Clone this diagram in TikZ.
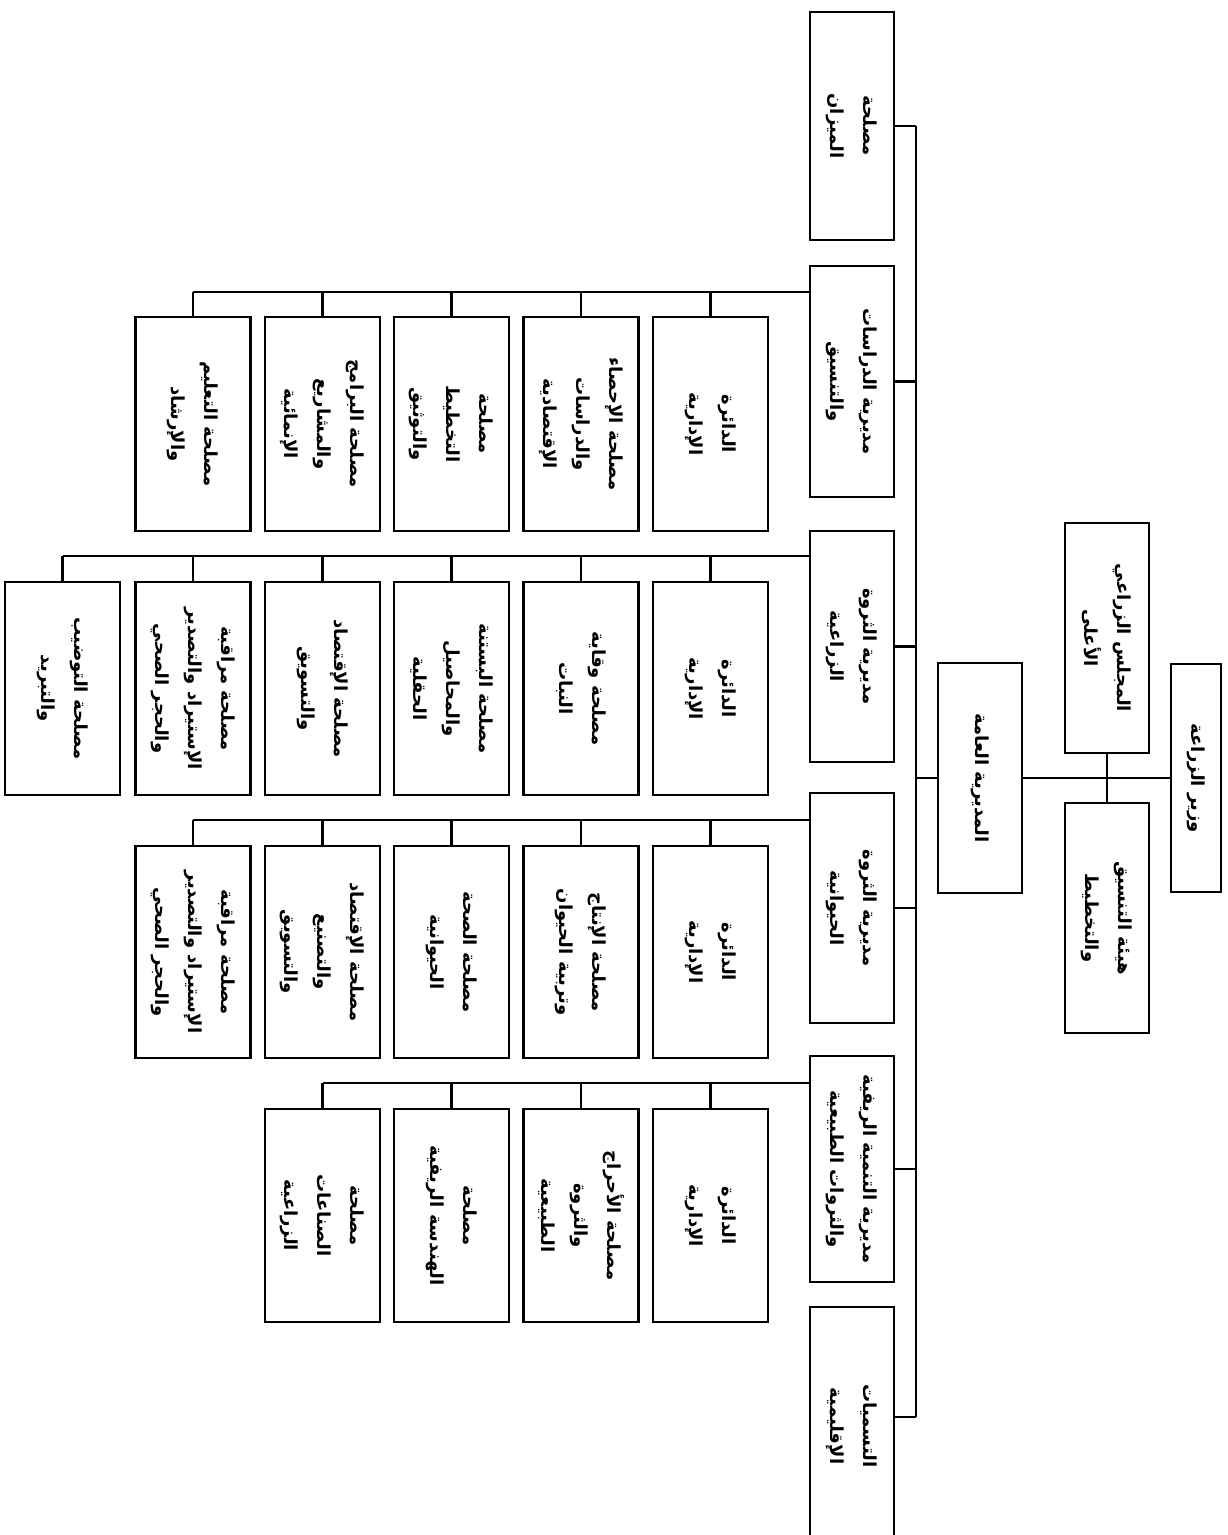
\documentclass[tikz,border=0pt]{standalone}
\usepackage{fontspec}
\newfontfamily\arabicfont[Script=Arabic]{DejaVu Sans}
\TeXXeTstate=1
\newcommand\AR[1]{\beginR #1\endR}
\begin{document}
\begin{tikzpicture}[x=1pt,y=-1pt,
  box/.style={draw, line width=2.3pt, rotate=-90, inner sep=0pt, align=center,
    font=\arabicfont\bfseries\fontsize{18}{33}\selectfont},
  kid/.style={box, minimum height=115pt},
  dir/.style={box, minimum height=84pt},
  conn/.style={line width=2.1pt},
  bus/.style={line width=2.8pt}]
\useasboundingbox (0,0) rectangle (1228,1535);
% top level
\node[box, minimum height=50pt, minimum width=228pt] (root) at (1196,778) {\AR{وزير الزراعة}};
\node[dir, minimum width=230pt] (council) at (1107,638) {\AR{المجلس الزراعي}\\\AR{الأعلى}};
\node[dir, minimum width=230pt] (hayaa) at (1107,918) {\AR{هيئة التنسيق}\\\AR{والتخطيط}};
\node[dir, minimum width=230pt] (gm) at (980,778) {\AR{المديرية العامة}};
% directorates
\node[dir, minimum width=228pt] (d1) at (852,126) {\AR{مصلحة}\\\AR{الميزان}};
\node[dir, minimum width=231pt] (d2) at (852,381.5) {\AR{مديرية الدراسات}\\\AR{والتنسيق}};
\node[dir, minimum width=231pt] (d3) at (852,646.5) {\AR{مديرية الثروة}\\\AR{الزراعية}};
\node[dir, minimum width=230pt] (d4) at (852,908) {\AR{مديرية الثروة}\\\AR{الحيوانية}};
\node[dir, minimum width=226pt] (d5) at (852,1169) {\AR{مديرية التنمية الريفية}\\\AR{والثروات الطبيعية}};
\node[dir, minimum width=238pt] (d6) at (852,1426) {\AR{التسميات}\\\AR{الإقليمية}};
% group 1
\node[kid, minimum width=214pt] (a1) at (710.5,424) {\AR{الدائرة}\\\AR{الإدارية}};
\node[kid, minimum width=214pt] (a2) at (581,424) {\AR{مصلحة الإحصاء}\\\AR{والدراسات}\\\AR{الإقتصادية}};
\node[kid, minimum width=214pt] (a3) at (451.5,424) {\AR{مصلحة}\\\AR{التخطيط}\\\AR{والتوثيق}};
\node[kid, minimum width=214pt] (a4) at (322.5,424) {\AR{مصلحة البرامج}\\\AR{والمشاريع}\\\AR{الإنمائية}};
\node[kid, minimum width=214pt] (a5) at (193,424) {\AR{مصلحة التعليم}\\\AR{والإرشاد}};
% group 2
\node[kid, minimum width=213pt] (b1) at (710.5,688.5) {\AR{الدائرة}\\\AR{الإدارية}};
\node[kid, minimum width=213pt] (b2) at (581,688.5) {\AR{مصلحة وقاية}\\\AR{النبات}};
\node[kid, minimum width=213pt] (b3) at (451.5,688.5) {\AR{مصلحة البستنة}\\\AR{والمحاصيل}\\\AR{الحقلية}};
\node[kid, minimum width=213pt] (b4) at (322.5,688.5) {\AR{مصلحة الإقتصاد}\\\AR{والتسويق}};
\node[kid, minimum width=213pt] (b5) at (193,688.5) {\AR{مصلحة مراقبة}\\\AR{الإستيراد والتصدير}\\\AR{والحجر الصحي}};
\node[kid, minimum width=213pt] (b6) at (62.5,688.5) {\AR{مصلحة التوضيب}\\\AR{والتبريد}};
% group 3
\node[kid, minimum width=212pt] (c1) at (710.5,952) {\AR{الدائرة}\\\AR{الإدارية}};
\node[kid, minimum width=212pt] (c2) at (581,952) {\AR{مصلحة الإنتاج}\\\AR{وتربية الحيوان}};
\node[kid, minimum width=212pt] (c3) at (451.5,952) {\AR{مصلحة الصحة}\\\AR{الحيوانية}};
\node[kid, minimum width=212pt] (c4) at (322.5,952) {\AR{مصلحة الإقتصاد}\\\AR{والتصنيع}\\\AR{والتسويق}};
\node[kid, minimum width=212pt] (c5) at (193,952) {\AR{مصلحة مراقبة}\\\AR{الإستيراد والتصدير}\\\AR{والحجر الصحي}};
% group 4
\node[kid, minimum width=213pt] (e1) at (710.5,1215.5) {\AR{الدائرة}\\\AR{الإدارية}};
\node[kid, minimum width=213pt] (e2) at (581,1215.5) {\AR{مصلحة الأحراج}\\\AR{والثروة}\\\AR{الطبيعية}};
\node[kid, minimum width=213pt] (e3) at (451.5,1215.5) {\AR{مصلحة}\\\AR{الهندسة الريفية}};
\node[kid, minimum width=213pt] (e4) at (322.5,1215.5) {\AR{مصلحة}\\\AR{الصناعات}\\\AR{الزراعية}};
% connectors: top
\draw[conn] (root.south) -- (gm.north);
\draw[conn] (council.east) -- (hayaa.west);
\coordinate (bt) at (916,126);
\coordinate (bb) at (916,1417);
\draw[bus] (bt) -- (bb);
\draw[conn] (gm.south) -- (gm.south -| bt);
\foreach \d in {d1,d2,d3,d4,d5} \draw[conn] (\d.north) -- (\d.north -| bt);
\draw[conn] (bb) -- (bb -| d6.north);
% group lines
\coordinate (g1) at (810,292);
\coordinate (g2) at (810,556);
\coordinate (g3) at (810,820);
\coordinate (g4) at (810,1083);
\draw[conn] (g1) -- (g1 -| a5.west);
\foreach \k in {a1,a2,a3,a4,a5} \draw[conn] (\k.west) -- (\k.west |- g1);
\draw[conn] (g2) -- (g2 -| b6.west);
\foreach \k in {b1,b2,b3,b4,b5,b6} \draw[conn] (\k.west) -- (\k.west |- g2);
\draw[conn] (g3) -- (g3 -| c5.west);
\foreach \k in {c1,c2,c3,c4,c5} \draw[conn] (\k.west) -- (\k.west |- g3);
\draw[conn] (g4) -- (g4 -| e4.west);
\foreach \k in {e1,e2,e3,e4} \draw[conn] (\k.west) -- (\k.west |- g4);
\end{tikzpicture}
\end{document}
